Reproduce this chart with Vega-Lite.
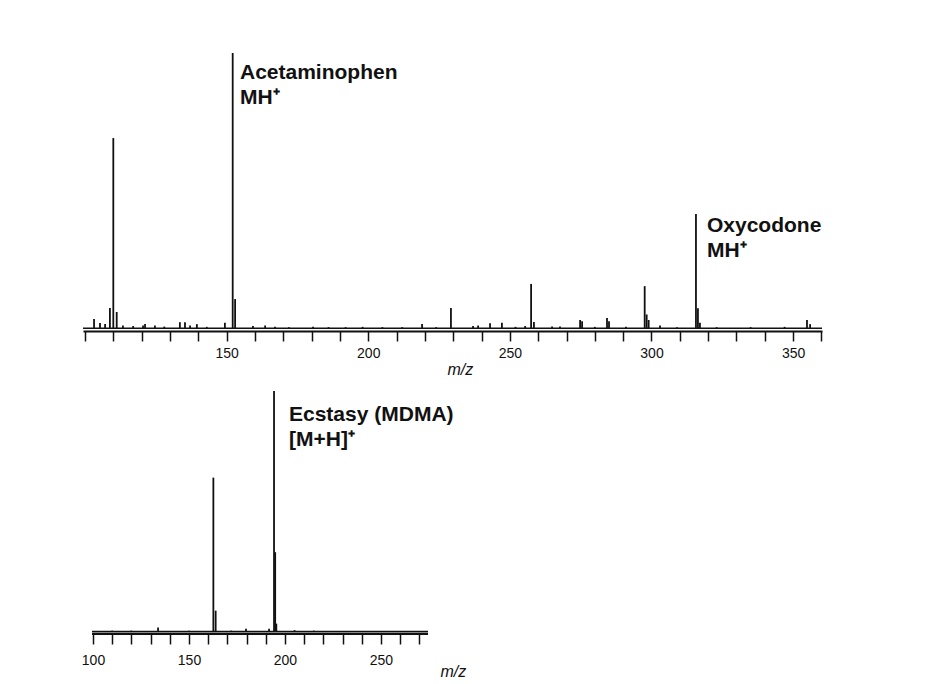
{
  "$schema": "https://vega.github.io/schema/vega-lite/v6.json",
  "background": "white",
  "padding": {"left": 63, "top": 52, "right": 0, "bottom": 0},
  "spacing": 13,
  "config": {
    "view": {"stroke": null},
    "font": "Liberation Sans",
    "axis": {
      "grid": false,
      "labelFontSize": 14,
      "labelColor": "#111",
      "labelFont": "Liberation Sans",
      "tickColor": "#111",
      "tickWidth": 1.5,
      "domainColor": "#111",
      "domainWidth": 2,
      "labelOverlap": false,
      "labelFlush": false,
      "titleFont": "Liberation Sans",
      "titleFontStyle": "italic",
      "titleFontWeight": "normal",
      "titleFontSize": 16,
      "titleColor": "#111",
      "titleAlign": "left",
      "titleBaseline": "alphabetic"
    }
  },
  "datasets": {
    "top": [
      {"mz": 103.2, "i": 3.4}, {"mz": 105.3, "i": 1.9}, {"mz": 107.1, "i": 1.5}, {"mz": 108.8, "i": 7.4},
      {"mz": 110.0, "i": 69.1}, {"mz": 111.2, "i": 5.9}, {"mz": 113.4, "i": 1.0}, {"mz": 117.0, "i": 0.8},
      {"mz": 120.5, "i": 1.0}, {"mz": 121.2, "i": 1.5}, {"mz": 124.7, "i": 1.0}, {"mz": 128, "i": 0.6},
      {"mz": 133.5, "i": 2.2}, {"mz": 135.3, "i": 2.2}, {"mz": 137.1, "i": 1.0}, {"mz": 139.5, "i": 1.5},
      {"mz": 143, "i": 0.5}, {"mz": 149.4, "i": 2.0}, {"mz": 152.15, "i": 100}, {"mz": 153.0, "i": 10.6},
      {"mz": 159.3, "i": 0.8}, {"mz": 163.6, "i": 1.0}, {"mz": 167.1, "i": 0.5}, {"mz": 172, "i": 0.4},
      {"mz": 180.5, "i": 0.5}, {"mz": 186, "i": 0.4}, {"mz": 192, "i": 0.4}, {"mz": 198, "i": 0.5},
      {"mz": 205, "i": 0.4}, {"mz": 212, "i": 0.4}, {"mz": 219.0, "i": 1.5}, {"mz": 224, "i": 0.4},
      {"mz": 229.2, "i": 7.4}, {"mz": 237, "i": 0.8}, {"mz": 238.8, "i": 1.0}, {"mz": 243, "i": 1.8},
      {"mz": 247.2, "i": 2.0}, {"mz": 252, "i": 0.5}, {"mz": 255.4, "i": 0.8}, {"mz": 257.5, "i": 16.1},
      {"mz": 258.5, "i": 2.3}, {"mz": 264.9, "i": 0.6}, {"mz": 267.7, "i": 0.6}, {"mz": 274.8, "i": 3.0},
      {"mz": 275.5, "i": 2.5}, {"mz": 280, "i": 0.5}, {"mz": 284.3, "i": 3.7}, {"mz": 285.0, "i": 2.5},
      {"mz": 291, "i": 0.5}, {"mz": 297.6, "i": 15.3}, {"mz": 298.3, "i": 5.0}, {"mz": 299.0, "i": 3.0},
      {"mz": 303.0, "i": 1.0}, {"mz": 309, "i": 0.4}, {"mz": 315.7, "i": 41.5}, {"mz": 316.4, "i": 7.3},
      {"mz": 317.1, "i": 2.0}, {"mz": 323, "i": 0.4}, {"mz": 335, "i": 0.4}, {"mz": 347, "i": 0.5},
      {"mz": 354.9, "i": 3.0}, {"mz": 356.0, "i": 1.5}
    ],
    "bottom": [
      {"mz": 110, "i": 0.4}, {"mz": 120, "i": 0.4}, {"mz": 133.9, "i": 1.7}, {"mz": 150, "i": 0.4},
      {"mz": 162.7, "i": 64}, {"mz": 163.9, "i": 8.7}, {"mz": 172, "i": 0.4}, {"mz": 179.7, "i": 1.2},
      {"mz": 191.7, "i": 1.2}, {"mz": 194.3, "i": 100}, {"mz": 194.9, "i": 33}, {"mz": 195.5, "i": 3.3},
      {"mz": 205, "i": 0.6}, {"mz": 215, "i": 0.4}
    ],
    "bottomlines": [
      {"start": 99.5, "end": 274.5, "level": 0, "w": "base"},
      {"start": 99.5, "end": 274.5, "level": -1, "w": "axis"}
    ],
    "toplabels": [
      {"mz": 154.73, "i": 90.55, "label": "Acetaminophen\nMH⁺"},
      {"mz": 319.6, "i": 34.97, "label": "Oxycodone\nMH⁺"}
    ],
    "bottomlabels": [
      {"mz": 202.1, "i": 87.7, "label": "Ecstasy (MDMA)\n[M+H]⁺"}
    ]
  },
  "vconcat": [
    {
      "width": 739,
      "height": 278,
      "layer": [
        {
          "data": {"name": "top"},
          "mark": {"type": "rule", "strokeWidth": 1.8, "color": "#111"},
          "encoding": {
            "x": {
              "field": "mz", "type": "quantitative",
              "scale": {"domain": [99.3, 360.2], "nice": false, "zero": false},
              "axis": {
                "values": [100, 110, 120, 130, 140, 150, 160, 170, 180, 190, 200, 210, 220, 230, 240, 250, 260, 270, 280, 290, 300, 310, 320, 330, 340, 350, 360],
                "labelExpr": "datum.value % 50 === 0 && datum.value >= 150 ? datum.label : ''",
                "tickSize": 10, "labelPadding": 5, "title": "m/z", "titleX": 364, "titleY": 43
              }
            },
            "y": {
              "field": "i", "type": "quantitative",
              "scale": {"domain": [-1, 100], "nice": false},
              "axis": {"title": null, "labels": false, "ticks": false, "domain": false, "minExtent": 20, "maxExtent": 20}
            },
            "y2": {"datum": 0}
          }
        },
        {
          "data": {"values": [{"base": 0}]},
          "mark": {"type": "rule", "strokeWidth": 1.5, "color": "#111"},
          "encoding": {
            "y": {
              "field": "base", "type": "quantitative",
              "axis": {"title": null, "labels": false, "ticks": false, "domain": false, "minExtent": 20, "maxExtent": 20}
            }
          }
        },
        {
          "data": {"name": "toplabels"},
          "mark": {"type": "text", "align": "left", "baseline": "alphabetic", "fontSize": 21, "fontWeight": "bold", "lineBreak": "\n", "lineHeight": 25, "color": "#111"},
          "encoding": {
            "x": {
              "field": "mz", "type": "quantitative",
              "axis": {
                "values": [100, 110, 120, 130, 140, 150, 160, 170, 180, 190, 200, 210, 220, 230, 240, 250, 260, 270, 280, 290, 300, 310, 320, 330, 340, 350, 360],
                "labelExpr": "datum.value % 50 === 0 && datum.value >= 150 ? datum.label : ''",
                "tickSize": 10, "labelPadding": 5, "title": "m/z", "titleX": 364, "titleY": 43
              }
            },
            "y": {
              "field": "i", "type": "quantitative",
              "axis": {"title": null, "labels": false, "ticks": false, "domain": false, "minExtent": 20, "maxExtent": 20}
            },
            "text": {"field": "label", "type": "nominal"}
          }
        }
      ]
    },
    {
      "width": 345,
      "height": 243,
      "layer": [
        {
          "data": {"name": "bottom"},
          "mark": {"type": "rule", "strokeWidth": 1.8, "color": "#111"},
          "encoding": {
            "x": {
              "field": "mz", "type": "quantitative",
              "scale": {"domain": [94.8, 274.5], "nice": false, "zero": false},
              "axis": {
                "values": [100, 110, 120, 130, 140, 150, 160, 170, 180, 190, 200, 210, 220, 230, 240, 250, 260, 270],
                "labelExpr": "datum.value % 50 === 0 ? datum.label : ''",
                "domain": false,
                "tickSize": 10, "labelPadding": 9, "title": "m/z", "titleX": 357, "titleY": 42
              }
            },
            "y": {
              "field": "i", "type": "quantitative",
              "scale": {"domain": [-1, 100], "nice": false},
              "axis": {"title": null, "labels": false, "ticks": false, "domain": false, "minExtent": 20, "maxExtent": 20}
            },
            "y2": {"datum": 0}
          }
        },
        {
          "data": {"name": "bottomlines"},
          "mark": {"type": "rule", "strokeWidth": 1.8, "color": "#111"},
          "encoding": {
            "x": {
              "field": "start", "type": "quantitative",
              "axis": {
                "values": [100, 110, 120, 130, 140, 150, 160, 170, 180, 190, 200, 210, 220, 230, 240, 250, 260, 270],
                "labelExpr": "datum.value % 50 === 0 ? datum.label : ''",
                "domain": false,
                "tickSize": 10, "labelPadding": 9, "title": "m/z", "titleX": 357, "titleY": 42
              }
            },
            "x2": {"field": "end"},
            "y": {
              "field": "level", "type": "quantitative",
              "axis": {"title": null, "labels": false, "ticks": false, "domain": false, "minExtent": 20, "maxExtent": 20}
            }
          }
        },
        {
          "data": {"name": "bottomlabels"},
          "mark": {"type": "text", "align": "left", "baseline": "alphabetic", "fontSize": 21, "fontWeight": "bold", "lineBreak": "\n", "lineHeight": 25, "color": "#111"},
          "encoding": {
            "x": {
              "field": "mz", "type": "quantitative",
              "axis": {
                "values": [100, 110, 120, 130, 140, 150, 160, 170, 180, 190, 200, 210, 220, 230, 240, 250, 260, 270],
                "labelExpr": "datum.value % 50 === 0 ? datum.label : ''",
                "domain": false,
                "tickSize": 10, "labelPadding": 9, "title": "m/z", "titleX": 357, "titleY": 42
              }
            },
            "y": {
              "field": "i", "type": "quantitative",
              "axis": {"title": null, "labels": false, "ticks": false, "domain": false, "minExtent": 20, "maxExtent": 20}
            },
            "text": {"field": "label", "type": "nominal"}
          }
        }
      ]
    }
  ]
}
